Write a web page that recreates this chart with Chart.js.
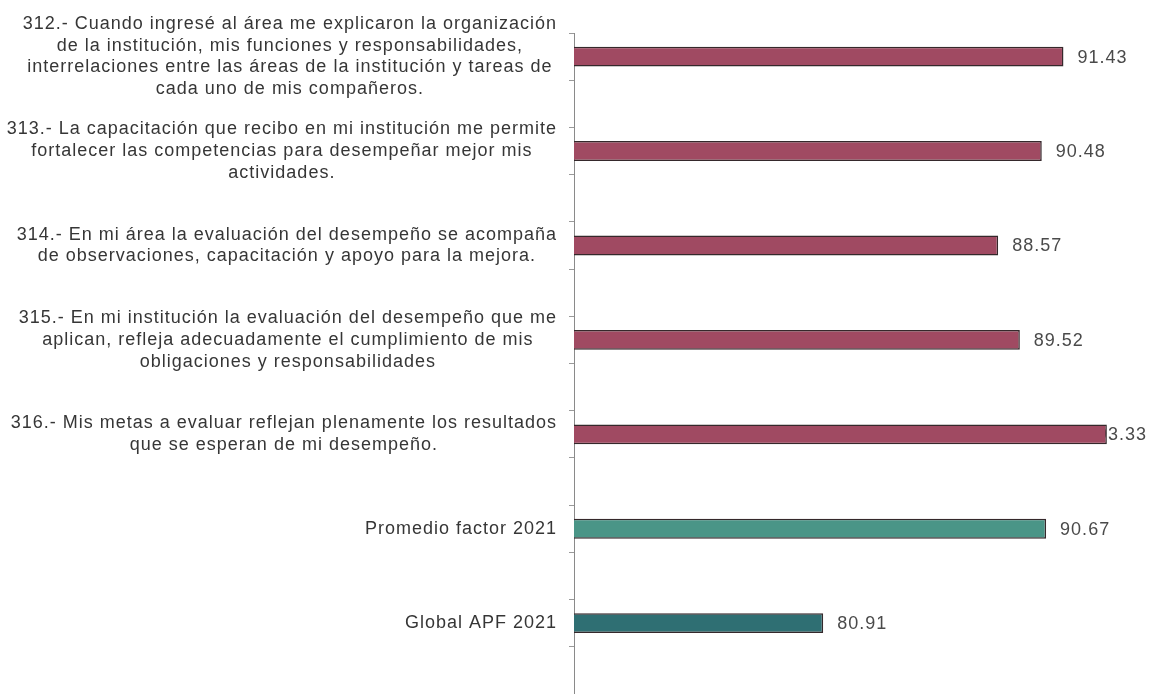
<!DOCTYPE html>
<html>
<head>
<meta charset="utf-8">
<title>Factor 2021</title>
<script src="https://cdn.jsdelivr.net/npm/chart.js@4/dist/chart.umd.min.js"></script>
<style>
  html, body { margin: 0; padding: 0; background: #fff; }
  #wrap { width: 1156px; height: 694px; }
</style>
</head>
<body>
<div id="wrap"><canvas id="factorChart" width="1156" height="694"></canvas></div>
<script>
// ===== Data =====
const categories = [
  ["312.- Cuando ingresé al área me explicaron la organización",
   "de la institución, mis funciones y responsabilidades,",
   "interrelaciones entre las áreas de la institución y tareas de",
   "cada uno de mis compañeros."],
  ["313.- La capacitación que recibo en mi institución me permite",
   "fortalecer las competencias para desempeñar mejor mis",
   "actividades."],
  ["314.- En mi área la evaluación del desempeño se acompaña",
   "de observaciones, capacitación y apoyo para la mejora."],
  ["315.- En mi institución la evaluación del desempeño que me",
   "aplican, refleja adecuadamente el cumplimiento de mis",
   "obligaciones y responsabilidades"],
  ["316.- Mis metas a evaluar reflejan plenamente los resultados",
   "que se esperan de mi desempeño."],
  ["Promedio factor 2021"],
  ["Global APF 2021"]
];
const values = [91.43, 90.48, 88.57, 89.52, 93.33, 90.67, 80.91];
const axisMin = 70;
const axisMax = 95;

// ===== Styles =====
const barColors = ["#a04a62", "#a04a62", "#a04a62", "#a04a62", "#a04a62", "#4a9587", "#2f6f73"];
const FONT = "'Liberation Sans', Arial, sans-serif";
const LABEL_SIZE = 18;
const LINE_H = 21.7;
const SPACING = "1px";

// every item sits in its own row, followed by an empty spacer row
const rowLabels = categories.flatMap(c => [c, ""]);
const rowValues = values.flatMap(v => [v, null]);
const rowColors = barColors.flatMap(c => [c, c]);

// Multi-line category labels: each block right-aligned to the axis, lines centered inside it
const categoryLabels = {
  id: "categoryLabels",
  afterDraw(chart) {
    const { ctx } = chart;
    const yScale = chart.scales.y;
    const right = yScale.right - 17;
    ctx.save();
    ctx.font = `${LABEL_SIZE}px ${FONT}`;
    ctx.letterSpacing = SPACING;
    ctx.fillStyle = "#363636";
    ctx.textAlign = "center";
    ctx.textBaseline = "middle";
    rowLabels.forEach((lines, i) => {
      if (!lines || !lines.length) return;
      const widest = Math.max(...lines.map(l => ctx.measureText(l).width));
      const cx = right - widest / 2;
      const cy = yScale.getPixelForValue(i);
      const top = cy - (lines.length - 1) * LINE_H / 2;
      lines.forEach((line, k) => ctx.fillText(line, cx, top + k * LINE_H));
    });
    ctx.restore();
  }
};

// Value labels drawn before the bars, kept inside the canvas on the right
const valueLabels = {
  id: "valueLabels",
  beforeDatasetsDraw(chart) {
    const { ctx } = chart;
    const meta = chart.getDatasetMeta(0);
    ctx.save();
    ctx.font = `${LABEL_SIZE}px ${FONT}`;
    ctx.letterSpacing = SPACING;
    ctx.fillStyle = "#4a4a4a";
    ctx.textAlign = "left";
    ctx.textBaseline = "middle";
    meta.data.forEach((bar, i) => {
      const v = rowValues[i];
      if (v == null) return;
      const text = v.toFixed(2);
      const w = ctx.measureText(text).width;
      const x = Math.min(bar.x + 14, chart.width - 9 - w);
      ctx.fillText(text, x, bar.y + 1);
    });
    ctx.restore();
  }
};

const ctx = document.getElementById("factorChart").getContext("2d");
new Chart(ctx, {
  type: "bar",
  data: {
    labels: rowLabels,
    datasets: [{
      data: rowValues,
      backgroundColor: rowColors,
      borderColor: "#35282b",
      borderWidth: 1.5,
      borderSkipped: false,
      barPercentage: 0.42,
      categoryPercentage: 1
    }]
  },
  options: {
    indexAxis: "y",
    responsive: false,
    devicePixelRatio: 1,
    animation: false,
    layout: { padding: { left: 569, top: 33, right: 11, bottom: 0 } },
    plugins: { legend: { display: false }, tooltip: { enabled: false } },
    scales: {
      x: {
        display: false,
        min: axisMin,
        max: axisMax
      },
      y: {
        ticks: { display: false, autoSkip: false },
        grid: {
          drawOnChartArea: false,
          drawTicks: true,
          tickLength: 5,
          color: "#9a9a9a",
          offset: true
        },
        border: { display: true, color: "#8a8a8a", width: 1 }
      }
    }
  },
  plugins: [categoryLabels, valueLabels]
});
</script>
</body>
</html>
